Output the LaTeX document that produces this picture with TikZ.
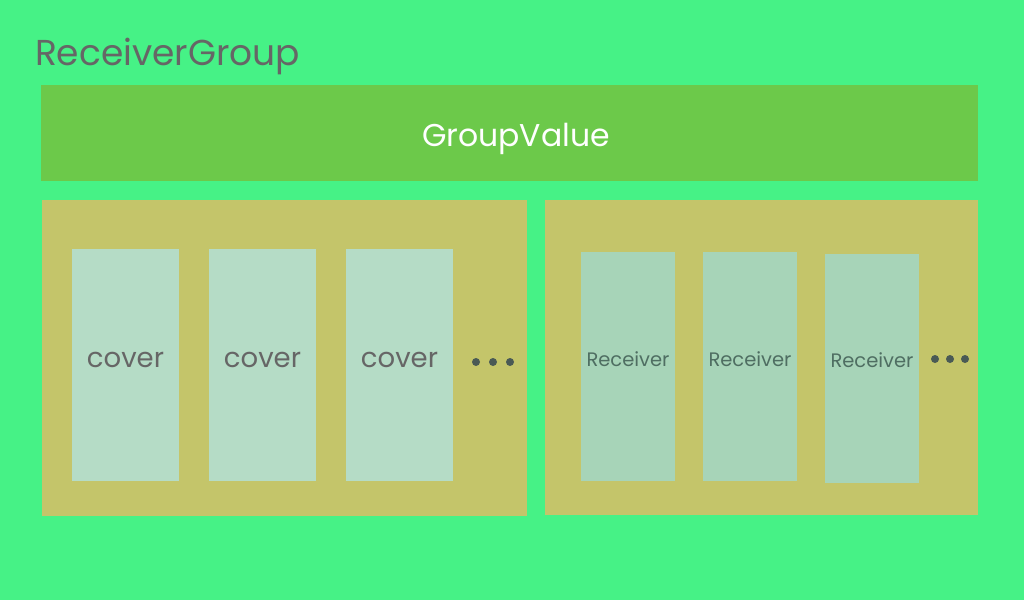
\documentclass[tikz,border=0pt]{standalone}
\usepackage{fontspec}
\setmainfont{Poppins}
\definecolor{bg}{HTML}{46F286}
\definecolor{gv}{HTML}{6CC94A}
\definecolor{grp}{HTML}{C4C56A}
\definecolor{cov}{HTML}{B5DCC6}
\definecolor{rcv}{HTML}{A7D4B8}
\definecolor{txt}{HTML}{666666}
\definecolor{rtxt}{HTML}{4F6E62}
\definecolor{dot}{HTML}{4A5A55}
\begin{document}
\begin{tikzpicture}[x=1pt,y=-1pt,
  box/.style={inner sep=0pt, outer sep=0pt},
  coverbox/.style={box, fill=cov, minimum width=107pt, minimum height=232pt},
  covertext/.style={label={[text=txt, font=\fontsize{27.5}{30}\selectfont, yshift=5pt]center:#1}},
  rcvbox/.style={box, fill=rcv, minimum width=94pt, minimum height=229pt},
  rcvtext/.style={label={[text=rtxt, font=\fontsize{19.5}{22}\selectfont, yshift=7.5pt]center:#1}},
  dotc/.style={circle, fill=dot, inner sep=0pt, minimum size=8pt}]
\fill[bg] (0,0) rectangle (1024,600);
\useasboundingbox (0,0) rectangle (1024,600);
\node[box, anchor=base west, text=txt, font=\fontsize{36}{40}\selectfont] (title) at (35,65) {ReceiverGroup};
\node[box, fill=gv, minimum width=937pt, minimum height=96pt] (gv) at (509.5,133) {};
\node[box, text=white, font=\fontsize{31.5}{34}\selectfont] (gvt) at (516,139) {GroupValue};
\node[box, fill=grp, minimum width=485pt, minimum height=316pt] (left) at (284.5,358) {};
\node[box, fill=grp, minimum width=433pt, minimum height=315pt] (right) at (761.5,357.5) {};
\node[coverbox, covertext=cover] (c1) at (125.5,365) {};
\node[coverbox, covertext=cover] (c2) at (262.5,365) {};
\node[coverbox, covertext=cover] (c3) at (399.5,365) {};
\node[dotc] (d1) at (476,362) {};
\node[dotc] (d2) at (493,362) {};
\node[dotc] (d3) at (510,362) {};
\node[rcvbox, rcvtext=Receiver] (r1) at (628,366.5) {};
\node[rcvbox, rcvtext=Receiver] (r2) at (750,366.5) {};
\node[rcvbox, rcvtext=Receiver] (r3) at (872,368) {};
\node[dotc] (e1) at (935,359) {};
\node[dotc] (e2) at (950,359) {};
\node[dotc] (e3) at (965,359) {};
\end{tikzpicture}
\end{document}
